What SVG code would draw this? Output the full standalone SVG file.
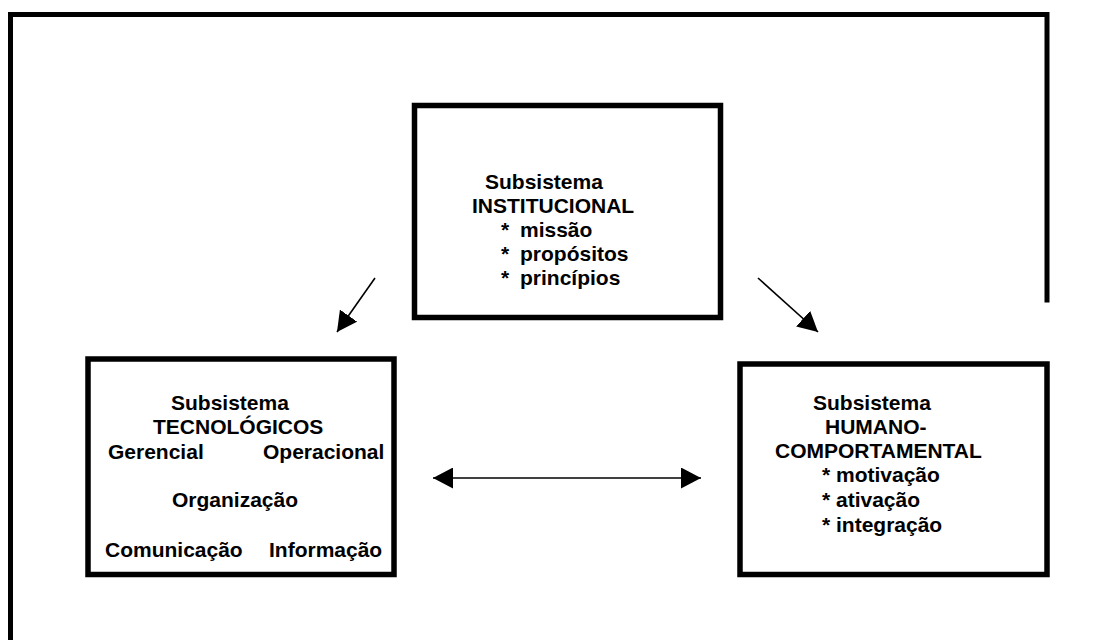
<svg xmlns="http://www.w3.org/2000/svg" width="1112" height="640" viewBox="0 0 1112 640">
  <style>
    .frame { fill: none; stroke: #000; stroke-width: 5; stroke-linecap: square; }
    .box { fill: #fff; stroke: #000; stroke-width: 5.5; }
    .link { fill: none; stroke: #000; stroke-width: 1.6; }
    .lbl { font-family: "Liberation Sans", Arial, sans-serif; font-weight: bold; font-size: 21px; fill: #000; }
  </style>
  <defs>
    <marker id="head" markerUnits="userSpaceOnUse" markerWidth="20" markerHeight="21" refX="20" refY="10.5" orient="auto-start-reverse">
      <path d="M0,0 L20,10.5 L0,21 Z" fill="#000"/>
    </marker>
  </defs>

  <!-- page frame, open at the bottom -->
  <path class="frame" d="M10.5,645 V14.5 H1047 V300"/>

  <!-- top: institutional subsystem -->
  <g id="institucional">
    <rect class="box" x="414.5" y="105.5" width="306" height="212"/>
    <text class="lbl" x="485" y="189">Subsistema</text>
    <text class="lbl" x="472" y="213">INSTITUCIONAL</text>
    <text class="lbl" y="237"><tspan x="501">*</tspan><tspan x="520">missão</tspan></text>
    <text class="lbl" y="261"><tspan x="501">*</tspan><tspan x="520">propósitos</tspan></text>
    <text class="lbl" y="285"><tspan x="501">*</tspan><tspan x="520">princípios</tspan></text>
  </g>

  <!-- left: technological subsystem -->
  <g id="tecnologicos">
    <rect class="box" x="88" y="359" width="306" height="215.5"/>
    <text class="lbl" x="171" y="410">Subsistema</text>
    <text class="lbl" x="153" y="434">TECNOLÓGICOS</text>
    <text class="lbl" x="108" y="459">Gerencial</text>
    <text class="lbl" x="263" y="459">Operacional</text>
    <text class="lbl" x="172" y="507">Organização</text>
    <text class="lbl" x="105" y="557">Comunicação</text>
    <text class="lbl" x="269" y="557">Informação</text>
  </g>

  <!-- right: human-behavioural subsystem -->
  <g id="humano">
    <rect class="box" x="740" y="364" width="307" height="210.5"/>
    <text class="lbl" x="813" y="410">Subsistema</text>
    <text class="lbl" x="825" y="434">HUMANO-</text>
    <text class="lbl" x="775" y="458">COMPORTAMENTAL</text>
    <text class="lbl" y="482"><tspan x="822">*</tspan><tspan x="836">motivação</tspan></text>
    <text class="lbl" y="507"><tspan x="822">*</tspan><tspan x="836">ativação</tspan></text>
    <text class="lbl" y="532"><tspan x="822">*</tspan><tspan x="836">integração</tspan></text>
  </g>

  <!-- connectors -->
  <g id="connectors">
    <line class="link" x1="375" y1="278" x2="337" y2="332" marker-end="url(#head)"/>
    <line class="link" x1="758" y1="278" x2="818" y2="332" marker-end="url(#head)"/>
    <line class="link" x1="433" y1="478" x2="701" y2="478" marker-start="url(#head)" marker-end="url(#head)"/>
  </g>
</svg>
